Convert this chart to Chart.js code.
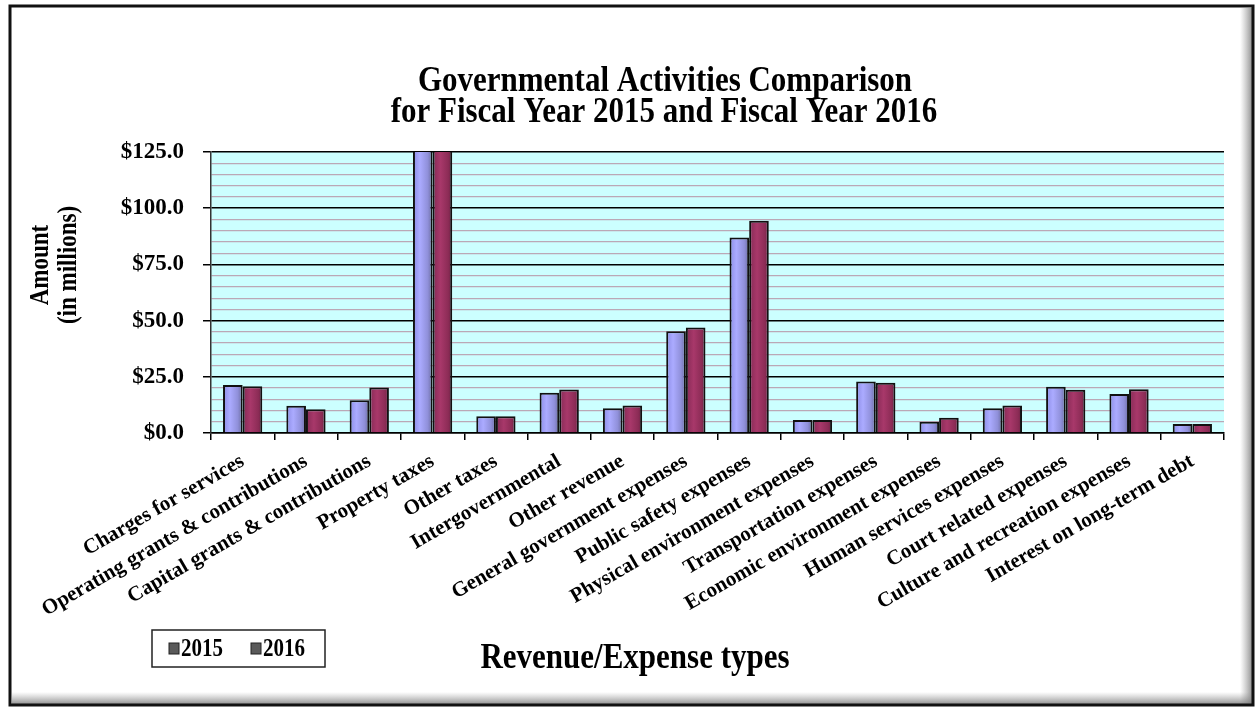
<!DOCTYPE html>
<html><head><meta charset="utf-8">
<script src="https://cdn.jsdelivr.net/npm/chart.js@4.4.1/dist/chart.umd.min.js"></script>
<style>html,body{margin:0;padding:0;background:#fff;overflow:hidden}canvas{display:block}</style>
</head><body>
<canvas id="c" width="1257" height="712"></canvas>
<script>
const categories = [
  'Charges for services', 'Operating grants & contributions', 'Capital grants & contributions',
  'Property taxes', 'Other taxes', 'Intergovernmental', 'Other revenue',
  'General government expenses', 'Public safety expenses', 'Physical environment expenses',
  'Transportation expenses', 'Economic environment expenses', 'Human services expenses',
  'Court related expenses', 'Culture and recreation expenses', 'Interest on long-term debt'
];
const values2015 = [21.3, 12.1, 14.6, 133.0, 7.5, 17.9, 11.0, 45.3, 87.0, 5.8, 22.9, 5.0, 11.0, 20.6, 17.4, 4.0];
const values2016 = [20.8, 10.6, 20.2, 136.0, 7.5, 19.4, 12.2, 46.9, 94.4, 5.8, 22.4, 6.8, 12.2, 19.2, 19.5, 4.0];
const seriesNames = ['2015', '2016'];
const yMin = 0, yMax = 125, yMinorStep = 5, yMajorStep = 25;
const titleLines = ['Governmental Activities Comparison', 'for Fiscal Year 2015 and Fiscal Year 2016'];
const xTitle = 'Revenue/Expense types';
const yTitleLines = ['Amount', '(in millions)'];

const SERIF = '"Liberation Serif", "Times New Roman", serif';
const CAT_PCT = 0.62;

function barFill(stops, solid) {
  return function (ctx) {
    const chart = ctx.chart;
    if (!chart.chartArea || ctx.type !== 'data') return solid;
    const xs = chart.scales.x;
    const c = xs.getPixelForValue(ctx.dataIndex);
    const half = (xs.width / categories.length) * CAT_PCT / 2;
    const left = ctx.datasetIndex === 0 ? c - half : c;
    const g = chart.ctx.createLinearGradient(left, 0, left + half, 0);
    stops.forEach(s => g.addColorStop(s[0], s[1]));
    return g;
  };
}

function stretchedText(ctx, text, x, y, sy) {
  ctx.save();
  ctx.translate(x, y);
  ctx.scale(1, sy);
  ctx.fillText(text, 0, 0);
  ctx.restore();
}

const decor = {
  id: 'decor',
  beforeDraw(chart) {
    const ctx = chart.ctx, W = chart.width, H = chart.height;
    ctx.save();
    ctx.fillStyle = '#ffffff';
    ctx.fillRect(0, 0, W, H);
    const sg = ctx.createLinearGradient(1240, 0, 1252, 0);
    sg.addColorStop(0, 'rgba(150,150,150,0)');
    sg.addColorStop(1, 'rgba(120,120,120,0.8)');
    ctx.fillStyle = sg;
    ctx.fillRect(1240, 8, 12, 696);
    const sg2 = ctx.createLinearGradient(0, 692, 0, 704);
    sg2.addColorStop(0, 'rgba(150,150,150,0)');
    sg2.addColorStop(1, 'rgba(120,120,120,0.8)');
    ctx.fillStyle = sg2;
    ctx.fillRect(12, 692, 1240, 12);
    ctx.strokeStyle = '#111';
    ctx.lineWidth = 3;
    ctx.strokeRect(10, 6, 1243, 699);
    const a = chart.chartArea;
    ctx.fillStyle = '#CCFFFF';
    ctx.fillRect(a.left, a.top, a.right - a.left, a.bottom - a.top);
    ctx.restore();
  },
  afterDraw(chart) {
    const ctx = chart.ctx;
    ctx.save();
    ctx.fillStyle = '#000';
    ctx.textAlign = 'center';
    ctx.textBaseline = 'alphabetic';
    ctx.font = 'bold 31px ' + SERIF;
    stretchedText(ctx, titleLines[0], 665, 91, 1.15);
    stretchedText(ctx, titleLines[1], 664, 122, 1.15);
    ctx.font = 'bold 31px ' + SERIF;
    stretchedText(ctx, xTitle, 635, 668, 1.15);
    ctx.save();
    ctx.translate(0, 265);
    ctx.rotate(-Math.PI / 2);
    ctx.font = 'bold 23px ' + SERIF;
    ctx.save(); ctx.scale(1, 1.15); ctx.fillText(yTitleLines[0], 0, 42); ctx.restore();
    ctx.save(); ctx.scale(1, 1.15); ctx.fillText(yTitleLines[1], 0, 66); ctx.restore();
    ctx.restore();
    ctx.lineWidth = 1.5;
    ctx.strokeStyle = '#222';
    ctx.fillStyle = '#fff';
    ctx.fillRect(152, 630, 173, 37);
    ctx.strokeRect(152, 630, 173, 37);
    const items = chart.data.datasets.map(d => d.label);
    const xs = [169, 251];
    ctx.font = 'bold 21px ' + SERIF;
    ctx.textAlign = 'left';
    ctx.textBaseline = 'alphabetic';
    items.forEach((lab, i) => {
      ctx.fillStyle = '#5a5a5a';
      ctx.fillRect(xs[i], 643, 10, 11);
      ctx.strokeStyle = '#222';
      ctx.lineWidth = 1;
      ctx.strokeRect(xs[i], 643, 10, 11);
      ctx.fillStyle = '#000';
      stretchedText(ctx, lab, xs[i] + 12, 656, 1.15);
    });
    ctx.restore();
  }
};

new Chart(document.getElementById('c'), {
  type: 'bar',
  data: {
    labels: categories,
    datasets: [
      {
        label: seriesNames[0], data: values2015,
        backgroundColor: barFill([[0, '#8c8ce6'], [0.35, '#ababff'], [0.75, '#9090da'], [1, '#6b6ba0']], '#9999FF'),
        borderColor: '#111', borderWidth: 2,
        categoryPercentage: CAT_PCT, barPercentage: 1.0
      },
      {
        label: seriesNames[1], data: values2016,
        backgroundColor: barFill([[0, '#852a55'], [0.4, '#a8386a'], [0.8, '#8c2c56'], [1, '#6a2042']], '#993366'),
        borderColor: '#111', borderWidth: 2,
        categoryPercentage: CAT_PCT, barPercentage: 1.0
      }
    ]
  },
  options: {
    responsive: false,
    animation: false,
    devicePixelRatio: 1,
    layout: { padding: { top: 152, right: 33, left: 0, bottom: 0 } },
    plugins: { legend: { display: false }, title: { display: false }, tooltip: { enabled: false } },
    scales: {
      x: {
        afterFit(s) { s.height = 279; },
        grid: { offset: true, drawOnChartArea: false, drawTicks: true, tickLength: 7, color: '#000', lineWidth: 1.5 },
        border: { color: '#000', width: 1.5 },
        ticks: {
          autoSkip: false, maxRotation: 30, minRotation: 30, padding: 9,
          color: '#000', font: { family: SERIF, size: 21, weight: 'bold' }
        }
      },
      y: {
        min: yMin, max: yMax,
        afterFit(s) { s.width = 211; },
        grid: {
          color: c => (c.tick && c.tick.value % yMajorStep === 0) ? '#000' : '#bba8b6',
          lineWidth: c => (c.tick && c.tick.value % yMajorStep === 0) ? 1.5 : 1.2,
          tickColor: c => (c.tick && c.tick.value % yMajorStep === 0) ? '#000' : 'rgba(0,0,0,0)',
          tickLength: 8
        },
        border: { color: '#333', width: 1.5 },
        ticks: {
          stepSize: yMinorStep, autoSkip: false, padding: 19,
          color: '#000', font: { family: SERIF, size: 23, weight: 'bold' },
          callback: v => (v % yMajorStep === 0) ? '$' + Number(v).toFixed(1) : ''
        }
      }
    }
  },
  plugins: [decor]
});
</script>
</body></html>
